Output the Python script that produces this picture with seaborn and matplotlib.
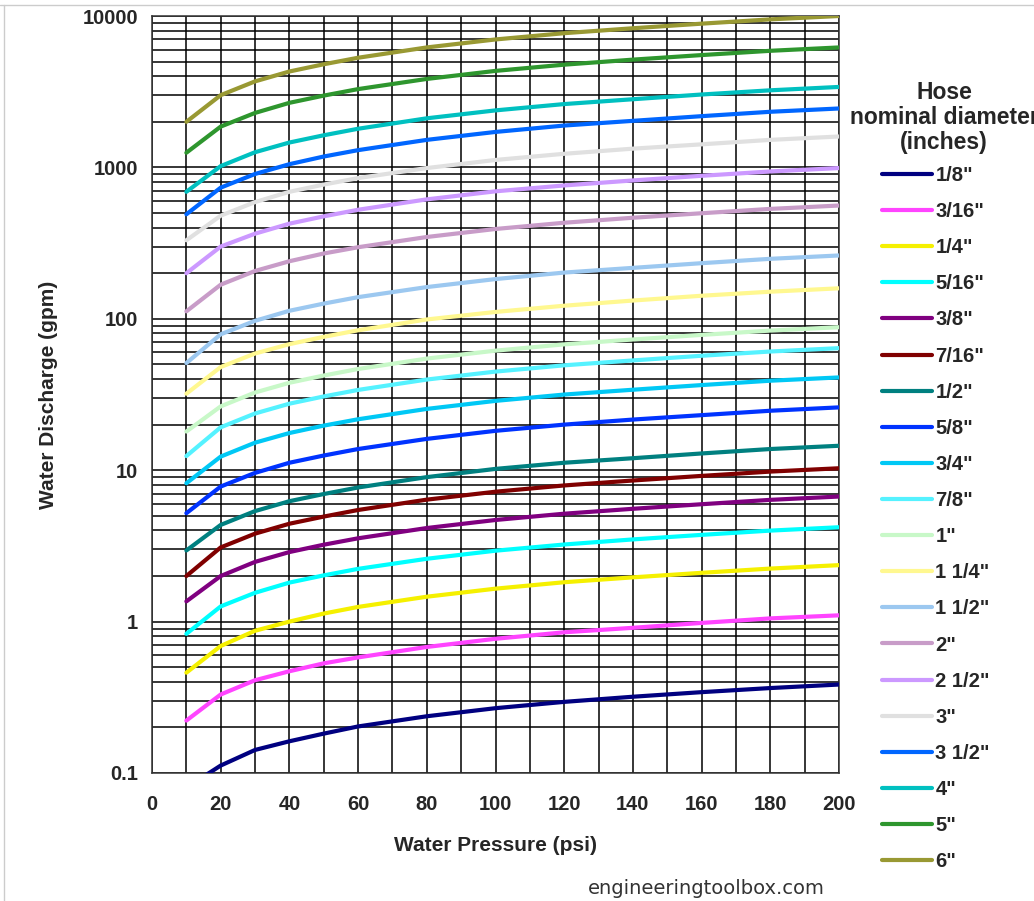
import pandas as pd
import matplotlib
matplotlib.use('Agg')
import matplotlib.pyplot as plt
from matplotlib.ticker import LogLocator, MultipleLocator, FixedLocator, NullFormatter
from matplotlib.lines import Line2D
import seaborn as sns

pressure = [10, 20, 30, 40, 50, 60, 80, 100, 120, 140, 160, 180, 200]

hose_sizes = ['1/8"', '3/16"', '1/4"', '5/16"', '3/8"', '7/16"', '1/2"', '5/8"', '3/4"', '7/8"',
              '1"', '1 1/4"', '1 1/2"', '2"', '2 1/2"', '3"', '3 1/2"', '4"', '5"', '6"']

# water discharge (gpm) per hose size
q_1_8 = [0.08, 0.112, 0.142, 0.162, 0.182, 0.203, 0.237, 0.268, 0.295, 0.319, 0.342, 0.364, 0.384]
q_3_16 = [0.222, 0.33, 0.41, 0.47, 0.53, 0.58, 0.68, 0.77, 0.85, 0.91, 0.98, 1.05, 1.1]
q_1_4 = [0.46, 0.69, 0.87, 1.0, 1.13, 1.25, 1.46, 1.65, 1.82, 1.96, 2.1, 2.24, 2.36]
q_5_16 = [0.83, 1.26, 1.55, 1.81, 2.02, 2.23, 2.6, 2.94, 3.23, 3.49, 3.74, 3.99, 4.2]
q_3_8 = [1.36, 2.0, 2.48, 2.88, 3.22, 3.55, 4.15, 4.69, 5.16, 5.56, 5.96, 6.37, 6.7]
q_7_16 = [2.0, 3.09, 3.81, 4.43, 4.94, 5.46, 6.39, 7.21, 7.93, 8.55, 9.17, 9.79, 10.3]
q_1_2 = [2.95, 4.35, 5.37, 6.24, 6.96, 7.69, 9.0, 10.2, 11.2, 12.0, 12.9, 13.8, 14.5]
q_5_8 = [5.2, 7.8, 9.6, 11.2, 12.5, 13.8, 16.1, 18.2, 20.0, 21.6, 23.1, 24.7, 26.0]
q_3_4 = [8.2, 12.3, 15.2, 17.6, 19.7, 21.7, 25.4, 28.7, 31.6, 34.0, 36.5, 39.0, 41.0]
q_7_8 = [12.4, 19.2, 23.7, 27.5, 30.7, 33.9, 39.7, 44.8, 49.3, 53.1, 57.0, 60.8, 64.0]
q_1 = [18.0, 26.4, 32.6, 37.8, 42.2, 46.6, 54.6, 61.6, 67.8, 73.0, 78.3, 83.6, 88.0]
q_1_1_4 = [32, 48, 59, 68, 76, 84, 99, 111, 122, 132, 142, 151, 159]
q_1_1_2 = [51, 79, 97, 113, 126, 139, 162, 183, 202, 217, 233, 249, 262]
q_2 = [112, 168, 207, 240, 270, 297, 347, 392, 431, 465, 498, 532, 560]
q_2_1_2 = [200, 300, 365, 425, 475, 525, 615, 695, 760, 820, 880, 940, 990]
q_3 = [330, 480, 590, 690, 770, 850, 990, 1120, 1230, 1330, 1420, 1520, 1600]
q_3_1_2 = [490, 735, 905, 1050, 1180, 1300, 1520, 1715, 1890, 2030, 2180, 2330, 2450]
q_4 = [690, 1020, 1260, 1460, 1630, 1800, 2110, 2380, 2620, 2820, 3030, 3230, 3400]
q_5 = [1250, 1860, 2290, 2670, 2980, 3290, 3840, 4340, 4770, 5150, 5520, 5890, 6200]
q_6 = [2000, 3000, 3700, 4300, 4800, 5300, 6200, 7000, 7700, 8300, 8900, 9500, 10000]

discharge = [q_1_8, q_3_16, q_1_4, q_5_16, q_3_8, q_7_16, q_1_2, q_5_8, q_3_4, q_7_8,
             q_1, q_1_1_4, q_1_1_2, q_2, q_2_1_2, q_3, q_3_1_2, q_4, q_5, q_6]

colors = ['#000080', '#ff44ff', '#f5f000', '#00ffff', '#800080', '#800000', '#008080', '#0033ff',
          '#00c8f5', '#55f2ff', '#c8f8c8', '#fff890', '#9cc8f0', '#c89cc8', '#cc99ff', '#e0e0e0',
          '#0066ff', '#00c0c0', '#2e962e', '#999933']

rows = []
for size, vals in zip(hose_sizes, discharge):
    for p, q in zip(pressure, vals):
        rows.append({'psi': p, 'gpm': q, 'size': size})
df = pd.DataFrame(rows)

sns.set_style('white')
plt.rcParams['font.family'] = ['Liberation Sans', 'DejaVu Sans']

fig = plt.figure(figsize=(10.34, 9.01), dpi=100)
ax = fig.add_axes([152 / 1034, 1 - 773 / 901, (839 - 152) / 1034, (773 - 16) / 901])

sns.lineplot(data=df, x='psi', y='gpm', hue='size', hue_order=hose_sizes,
             palette=dict(zip(hose_sizes, colors)), estimator=None, sort=False,
             linewidth=3, ax=ax, zorder=3)

ax.set_yscale('log')
ax.set_xlim(0, 200)
ax.set_ylim(0.1, 10000)

# grid
ax.xaxis.set_major_locator(MultipleLocator(20))
ax.xaxis.set_minor_locator(MultipleLocator(10))
ax.yaxis.set_major_locator(FixedLocator([0.1, 1, 10, 100, 1000, 10000]))
ax.yaxis.set_minor_locator(LogLocator(base=10, subs=range(2, 10), numticks=20))
ax.yaxis.set_minor_formatter(NullFormatter())
ax.set_yticklabels(['0.1', '1', '10', '100', '1000', '10000'])
ax.grid(True, which='both', axis='both', color='black', linewidth=1.1)
ax.set_axisbelow(True)
for s in ax.spines.values():
    s.set_color('#333333')
    s.set_linewidth(1.1)

ax.tick_params(axis='both', which='major', direction='out', length=5, width=1.1, color='#333333',
               labelsize=14.5)
ax.tick_params(axis='y', which='major', pad=5)
ax.tick_params(axis='x', which='major', pad=11)
ax.tick_params(axis='both', which='minor', length=0)
for lbl in ax.get_xticklabels() + ax.get_yticklabels():
    lbl.set_fontweight('bold')

ax.set_xlabel('Water Pressure (psi)', fontsize=15, fontweight='bold')
ax.set_ylabel('Water Discharge (gpm)', fontsize=15, fontweight='bold')
ax.xaxis.set_label_coords(0.5, -0.083)
ax.yaxis.set_label_coords(-0.137, 0.5)

# legend title drawn as its own text so it can sit centred over the entries
fig.text(944 / 1034, 1 - 81 / 901, 'Hose\nnominal diameter\n(inches)', ha='center', va='top',
         multialignment='center', linespacing=1.1, fontsize=16.5, fontweight='bold')

handles, labels = ax.get_legend_handles_labels()
leg = ax.legend(handles, labels, loc='upper left',
                bbox_to_anchor=(882 / 1034, 1 - 166 / 901), bbox_transform=fig.transFigure,
                frameon=False, handlelength=2.5, handletextpad=0.15, labelspacing=0.85,
                borderpad=0, borderaxespad=0, prop={'weight': 'bold', 'size': 14.5})
for line in leg.get_lines():
    line.set_linewidth(3)

fig.text(706 / 1034, 1 - 889 / 901, 'engineeringtoolbox.com', ha='center', va='center',
         fontsize=14, color='#333333', family='DejaVu Sans')

# screenshot frame lines
fig.add_artist(Line2D([0, 1], [1 - 5 / 901, 1 - 5 / 901], transform=fig.transFigure,
                      color='#cccccc', linewidth=1))
fig.add_artist(Line2D([4 / 1034, 4 / 1034], [0, 1 - 5 / 901], transform=fig.transFigure,
                      color='#cccccc', linewidth=1))

fig.savefig('out.png', dpi=100)
